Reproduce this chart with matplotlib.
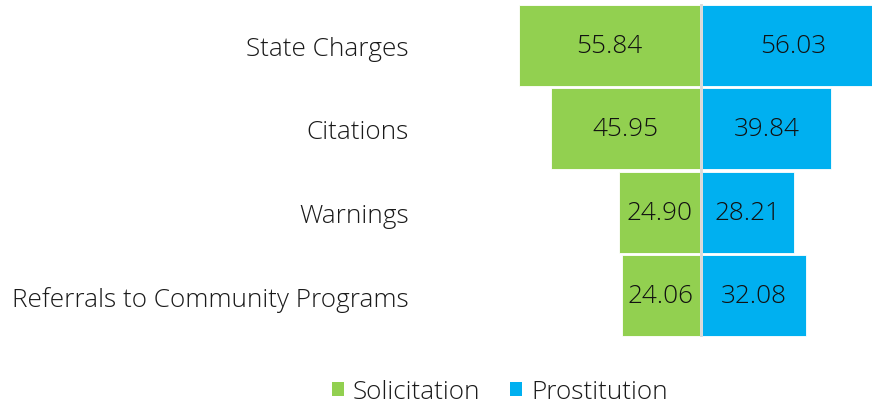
import matplotlib
matplotlib.use("Agg")
import matplotlib.pyplot as plt
from matplotlib.patches import Patch

categories = ["State Charges", "Citations", "Warnings", "Referrals to Community Programs"]
solicitation = [55.84, 45.95, 24.90, 24.06]
prostitution = [56.03, 39.84, 28.21, 32.08]
series_names = ["Solicitation", "Prostitution"]

GREEN = "#92D050"
BLUE = "#00B0F0"
FONT = "Open Sans"
FW = "light"
FS = 18.8

W, H = 872, 406
fig = plt.figure(figsize=(W / 100, H / 100), dpi=100)
ax_left, ax_right = 420, 872
ax_top, ax_bot = 4.8, 338.2
ax = fig.add_axes([ax_left / W, 1 - ax_bot / H, (ax_right - ax_left) / W, (ax_bot - ax_top) / H])

center_px = 701
scale = 3.24
ax.set_xlim(-(center_px - ax_left) / scale, (ax_right - center_px) / scale)
ax.set_ylim(3.5, -0.5)

y = list(range(len(categories)))
gap = 0.35
ax.barh(y, [-v for v in solicitation], left=-gap, height=0.97, color=GREEN,
        edgecolor="white", linewidth=0.6)
ax.barh(y, prostitution, left=gap, height=0.97, color=BLUE,
        edgecolor="white", linewidth=0.6)
ax.axvline(0, color="#D9D9D9", lw=2, ymin=0.0, ymax=1.0)

for i in y:
    ax.text(-gap - solicitation[i] / 2, i, f"{solicitation[i]:.2f}", ha="center", va="center",
            fontsize=FS, family=FONT, weight=FW, color="#111111")
    ax.text(gap + prostitution[i] / 2, i, f"{prostitution[i]:.2f}", ha="center", va="center",
            fontsize=FS, family=FONT, weight=FW, color="#111111")

ax.set_yticks(y)
ax.set_yticklabels(categories, fontsize=FS, family=FONT, weight=FW, color="#1a1a1a")
ax.tick_params(axis="y", length=0, pad=7.9)
ax.set_xticks([])
for s in ax.spines.values():
    s.set_visible(False)

handles = [Patch(facecolor=GREEN, label=series_names[0]), Patch(facecolor=BLUE, label=series_names[1])]
fig.legend(handles=handles, loc="center", bbox_to_anchor=(500 / W, 1 - 393 / H), ncol=2,
           frameon=False, prop={"family": FONT, "size": FS, "weight": FW}, handlelength=0.45,
           handleheight=0.45, handletextpad=0.35, columnspacing=1.15, labelcolor="#1a1a1a")

fig.savefig("out.png", dpi=100)
